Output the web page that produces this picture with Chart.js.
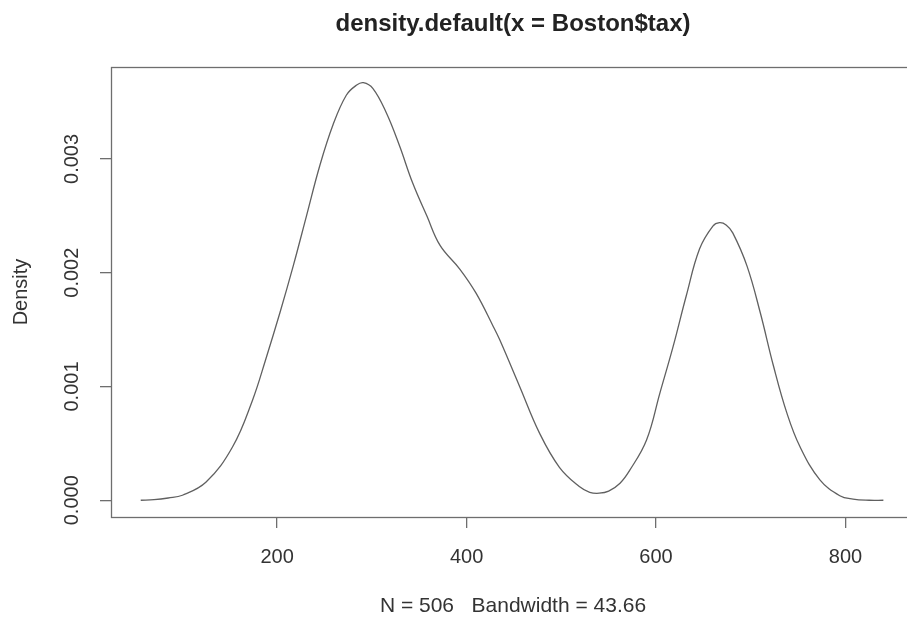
<!DOCTYPE html>
<html>
<head>
<meta charset="utf-8">
<script src="https://cdn.jsdelivr.net/npm/chart.js@4/dist/chart.umd.min.js"></script>
<style>
  html, body { margin: 0; padding: 0; background: #fff; overflow: hidden; }
  canvas { display: block; }
</style>
</head>
<body>
<canvas id="g1" width="1026" height="619"></canvas>
<script>
// density estimate of Boston$tax
var densX = [56, 70, 85, 100, 125, 153, 174, 188, 203, 217, 231, 245, 259, 273, 284, 291,
  301, 315, 329, 343, 358, 372, 393, 410, 428, 435, 456, 477, 498, 519, 530, 540,
  550, 562, 572, 590, 604, 618, 632, 646, 660, 667, 674, 681, 696, 710, 724, 738,
  752, 773, 794, 808, 825, 840];
var densY = [0.00000, 0.000005, 0.00002, 0.000044, 0.00016, 0.00047, 0.00088, 0.00124,
  0.00165, 0.00206, 0.0025, 0.00294, 0.0033, 0.00356, 0.00365, 0.00367,
  0.00362, 0.00341, 0.00312, 0.00279, 0.0025, 0.00224, 0.00203, 0.00182,
  0.00153, 0.00141, 0.0010, 0.00059, 0.00029, 0.00012, 0.00007, 0.000062,
  0.00008, 0.00015, 0.00026, 0.00053, 0.00094, 0.00135, 0.0018, 0.00221,
  0.00241, 0.00244, 0.00242, 0.00235, 0.00206, 0.00165, 0.00118, 0.00077,
  0.00047, 0.00018, 0.00004, 0.00001, 0.0000, 0.0000];
var xTicks = [200, 400, 600, 800];
var yTicks = [0, 0.001, 0.002, 0.003];
var mainTitle = 'density.default(x = Boston$tax)';
var xLabel = 'N = 506   Bandwidth = 43.66';
var yLabel = 'Density';

var pts = densX.map(function (x, i) { return { x: x, y: densY[i] }; });

var boxColor = '#6e6e6e';
var font = 'Liberation Sans, Arial, Helvetica, sans-serif';

// R style box round the plot region
var boxPlugin = {
  id: 'box',
  afterDraw: function (chart) {
    var a = chart.chartArea, c = chart.ctx;
    c.save();
    c.strokeStyle = boxColor;
    c.lineWidth = 1.3;
    c.strokeRect(Math.round(a.left) + 0.5, Math.round(a.top) + 0.5,
      Math.round(a.right - a.left), Math.round(a.bottom - a.top));
    c.restore();
  }
};

var ctx = document.getElementById('g1').getContext('2d');
var myChart = new Chart(ctx, {
  type: 'line',
  data: {
    datasets: [{
      data: pts,
      borderColor: '#606060',
      borderWidth: 1.3,
      pointRadius: 0,
      fill: false,
      tension: 0.4
    }]
  },
  plugins: [boxPlugin],
  options: {
    responsive: false,
    animation: false,
    devicePixelRatio: 1,
    layout: { padding: { left: 0, right: 111, top: 0, bottom: 0 } },
    plugins: {
      legend: { display: false },
      tooltip: { enabled: false },
      title: { display: false }
    },
    scales: {
      // top axis only carries the main title, centred over the plot region like R
      x2: {
        type: 'linear',
        position: 'top',
        min: 24.6,
        max: 873.4,
        afterFit: function (s) { s.height = 67; },
        grid: { display: false },
        border: { display: false },
        ticks: { display: false },
        title: {
          display: true,
          text: mainTitle,
          color: '#222',
          font: { family: font, size: 24, weight: 'bold' },
          padding: { top: 9.5, bottom: 0 }
        }
      },
      x: {
        type: 'linear',
        position: 'bottom',
        min: 24.6,
        max: 873.4,
        afterFit: function (s) { s.height = 102; },
        afterBuildTicks: function (s) { s.ticks = xTicks.map(function (v) { return { value: v }; }); },
        grid: { drawOnChartArea: false, drawTicks: true, tickLength: 11, color: boxColor, lineWidth: 1.3 },
        border: { display: false },
        ticks: {
          color: '#333',
          padding: 17,
          maxRotation: 0,
          font: { family: font, size: 20 },
          callback: function (v) { return String(v); }
        },
        title: {
          display: true,
          text: xLabel,
          color: '#333',
          font: { family: font, size: 21 },
          padding: { top: 0, bottom: 0 }
        }
      },
      y: {
        type: 'linear',
        min: -0.000147,
        max: 0.003808,
        afterFit: function (s) { s.width = 111; },
        afterBuildTicks: function (s) { s.ticks = yTicks.map(function (v) { return { value: v }; }); },
        grid: { drawOnChartArea: false, drawTicks: true, tickLength: 11, color: boxColor, lineWidth: 1.3 },
        border: { display: false },
        ticks: {
          color: '#333',
          padding: 2,
          minRotation: 90,
          maxRotation: 90,
          crossAlign: 'center',
          font: { family: font, size: 20 },
          callback: function (v) { return v.toFixed(3); }
        },
        title: {
          display: true,
          text: yLabel,
          color: '#333',
          font: { family: font, size: 20 },
          padding: { top: 9, bottom: 9 }
        }
      }
    }
  }
});
</script>
</body>
</html>
